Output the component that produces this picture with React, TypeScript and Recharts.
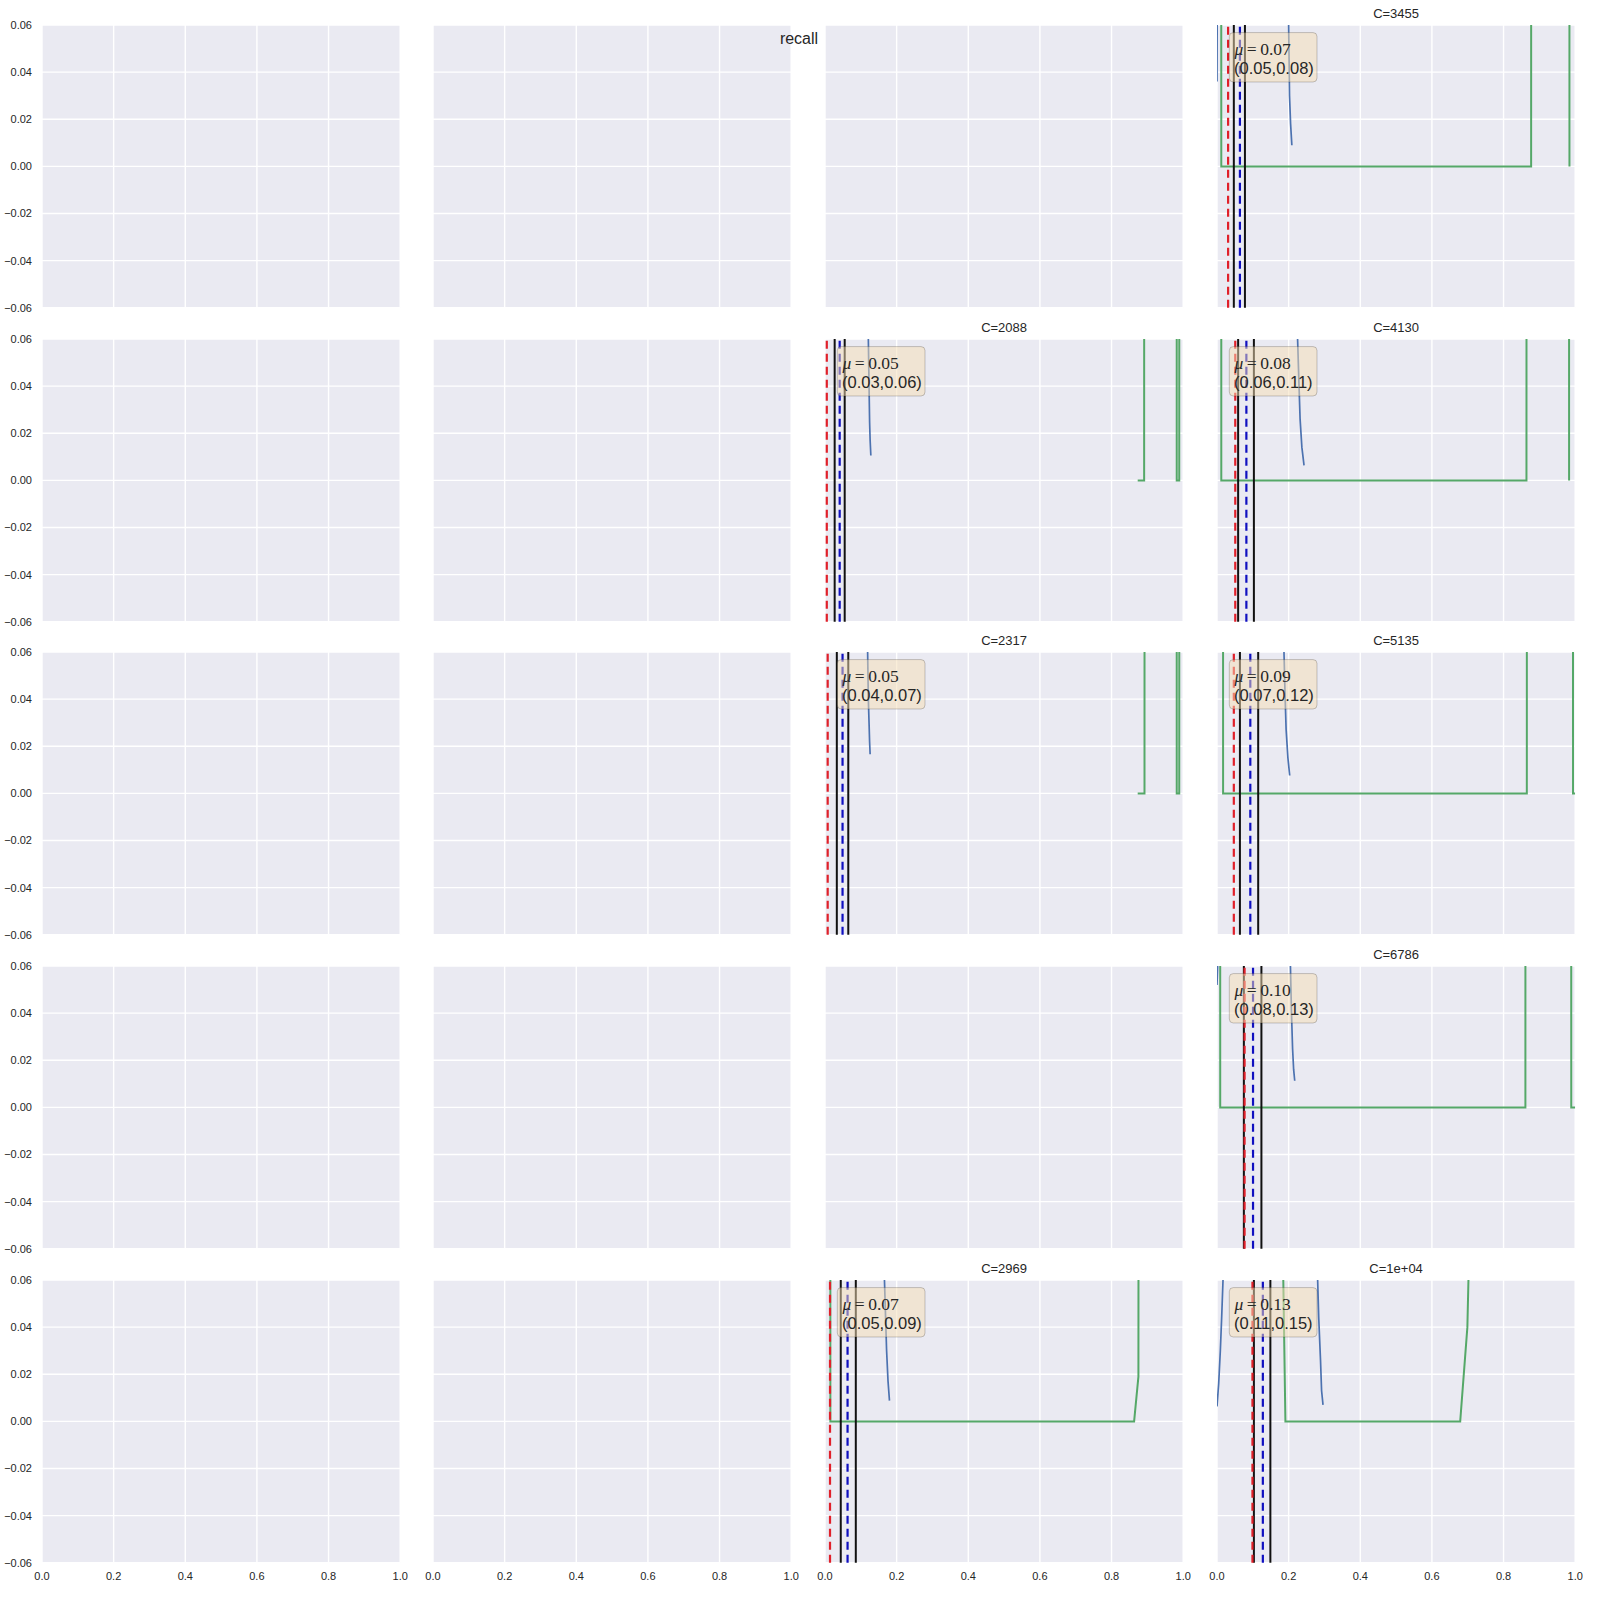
import React from "react";
import { ComposedChart, Line, XAxis, YAxis, CartesianGrid, ReferenceLine } from "recharts";

// ---------- data ----------
const xTicks = [0, 0.2, 0.4, 0.6, 0.8, 1.0];
const yTicks = [-0.06, -0.04, -0.02, 0, 0.02, 0.04, 0.06];
const suptitle = "recall";

const titles = ["C=3455", "C=2088", "C=2317", "C=2969", "C=4130", "C=5135", "C=6786", "C=1e+04"];
const panelRows = [0, 1, 2, 4, 1, 2, 3, 4];
const panelCols = [3, 2, 2, 2, 3, 3, 3, 3];
const muLabels = ["0.07", "0.05", "0.05", "0.07", "0.08", "0.09", "0.10", "0.13"];
const ciLabels = ["(0.05,0.08)", "(0.03,0.06)", "(0.04,0.07)", "(0.05,0.09)", "(0.06,0.11)", "(0.07,0.12)", "(0.08,0.13)", "(0.11,0.15)"];
const redRef = [0.031, 0.005, 0.0075, 0.014, 0.051, 0.047, 0.077, 0.099];
const ciLow = [0.047, 0.027, 0.033, 0.044, 0.059, 0.064, 0.075, 0.103];
const ciHigh = [0.078, 0.055, 0.065, 0.086, 0.103, 0.115, 0.124, 0.149];
const meanRef = [0.064, 0.041, 0.049, 0.063, 0.082, 0.093, 0.1006, 0.128];

const blueC3455 = [
  { x: 0, y: 0.036 }, { x: 0.0006, y: 0.07 }, { x: 0.01, y: 0.5 }, { x: 0.19, y: 0.5 },
  { x: 0.1995, y: 0.075 }, { x: 0.2, y: 0.06 }, { x: 0.2025, y: 0.03 }, { x: 0.2055, y: 0.018 }, { x: 0.209, y: 0.009 },
];
const blueC2088 = [
  { x: 0, y: 0.5 }, { x: 0.119, y: 0.5 }, { x: 0.1205, y: 0.075 }, { x: 0.121, y: 0.06 },
  { x: 0.1235, y: 0.035 }, { x: 0.1245, y: 0.025 }, { x: 0.126, y: 0.017 }, { x: 0.128, y: 0.0106 },
];
const blueC2317 = [
  { x: 0, y: 0.5 }, { x: 0.117, y: 0.5 }, { x: 0.1185, y: 0.075 }, { x: 0.119, y: 0.06 },
  { x: 0.121, y: 0.04 }, { x: 0.123, y: 0.03 }, { x: 0.1245, y: 0.022 }, { x: 0.126, y: 0.0166 },
];
const blueC2969 = [
  { x: 0, y: 0.5 }, { x: 0.162, y: 0.5 }, { x: 0.1652, y: 0.075 }, { x: 0.166, y: 0.06 },
  { x: 0.169, y: 0.045 }, { x: 0.172, y: 0.03 }, { x: 0.176, y: 0.017 }, { x: 0.18, y: 0.0088 },
];
const blueC4130 = [
  { x: 0, y: 0.5 }, { x: 0.22, y: 0.5 }, { x: 0.224, y: 0.075 }, { x: 0.225, y: 0.06 },
  { x: 0.228, y: 0.045 }, { x: 0.232, y: 0.026 }, { x: 0.237, y: 0.014 }, { x: 0.243, y: 0.0064 },
];
const blueC5135 = [
  { x: 0, y: 0.5 }, { x: 0.183, y: 0.5 }, { x: 0.186, y: 0.075 }, { x: 0.187, y: 0.06 },
  { x: 0.19, y: 0.042 }, { x: 0.193, y: 0.027 }, { x: 0.198, y: 0.015 }, { x: 0.203, y: 0.0076 },
];
const blueC6786 = [
  { x: 0, y: 0.052 }, { x: 0.004, y: 0.07 }, { x: 0.02, y: 0.5 }, { x: 0.2, y: 0.5 },
  { x: 0.2042, y: 0.075 }, { x: 0.205, y: 0.06 }, { x: 0.208, y: 0.04 }, { x: 0.211, y: 0.025 },
  { x: 0.214, y: 0.016 }, { x: 0.217, y: 0.0113 },
];
const blueC10000 = [
  { x: 0, y: 0.0064 }, { x: 0.0047, y: 0.016 }, { x: 0.0093, y: 0.03 }, { x: 0.013, y: 0.044 },
  { x: 0.0168, y: 0.06 }, { x: 0.02, y: 0.08 }, { x: 0.03, y: 0.5 }, { x: 0.27, y: 0.5 },
  { x: 0.2805, y: 0.075 }, { x: 0.281, y: 0.06 }, { x: 0.284, y: 0.044 }, { x: 0.289, y: 0.026 },
  { x: 0.292, y: 0.013 }, { x: 0.296, y: 0.007 },
];

const greenC3455 = [
  { x: 0.011, y: 0.5 }, { x: 0.012, y: 0 }, { x: 0.877, y: 0 }, { x: 0.8775, y: 0.5 },
  { x: 0.9835, y: 0.5 }, { x: 0.984, y: 0 },
];
const greenC2088 = [
  { x: 0.873, y: 0 }, { x: 0.891, y: 0 }, { x: 0.8915, y: 0.5 }, { x: 0.9815, y: 0.5 },
  { x: 0.982, y: 0 }, { x: 0.989, y: 0 }, { x: 0.9895, y: 0.5 }, { x: 1.0, y: 0.5 },
];
const greenC2317 = [
  { x: 0.873, y: 0 }, { x: 0.892, y: 0 }, { x: 0.8925, y: 0.5 }, { x: 0.9815, y: 0.5 },
  { x: 0.982, y: 0 }, { x: 0.989, y: 0 }, { x: 0.9895, y: 0.5 }, { x: 1.0, y: 0.5 },
];
const greenC2969 = [
  { x: 0.0145, y: 0.5 }, { x: 0.015, y: 0 }, { x: 0.863, y: 0 }, { x: 0.875, y: 0.019 }, { x: 0.877, y: 0.5 },
];
const greenC4130 = [
  { x: 0.0115, y: 0.5 }, { x: 0.012, y: 0 }, { x: 0.864, y: 0 }, { x: 0.8645, y: 0.5 },
  { x: 0.9825, y: 0.5 }, { x: 0.983, y: 0 },
];
const greenC5135 = [
  { x: 0.0165, y: 0.5 }, { x: 0.017, y: 0 }, { x: 0.865, y: 0 }, { x: 0.8655, y: 0.5 },
  { x: 0.9935, y: 0.5 }, { x: 0.994, y: 0 }, { x: 1.0, y: 0 },
];
const greenC6786 = [
  { x: 0.0085, y: 0.5 }, { x: 0.009, y: 0 }, { x: 0.861, y: 0 }, { x: 0.8615, y: 0.5 },
  { x: 0.9885, y: 0.5 }, { x: 0.989, y: 0 }, { x: 1.0, y: 0 },
];
const greenC10000 = [
  { x: 0.1845, y: 0.066 }, { x: 0.191, y: 0 }, { x: 0.679, y: 0 }, { x: 0.699, y: 0.04 }, { x: 0.7035, y: 0.07 },
];

const blueCurves = [blueC3455, blueC2088, blueC2317, blueC2969, blueC4130, blueC5135, blueC6786, blueC10000];
const greenCurves = [greenC3455, greenC2088, greenC2317, greenC2969, greenC4130, greenC5135, greenC6786, greenC10000];

// ---------- layout ----------
const COL_LEFT = [42, 433.3, 825, 1216.7];
const ROW_TOP = [24.7, 338.5, 652.3, 966.1, 1279.9];
const PLOT_W = 358.2;
const PLOT_H = 282.8;
const AX_W = 42;
const AX_H = 30;
const TOP_M = 24;
const RIGHT_M = 8;

const SANS = "'Liberation Sans', Arial, sans-serif";
const SERIF = "'Liberation Serif', 'DejaVu Serif', serif";
const TEXT = "#262626";
const TICK_STYLE = { fontSize: 11, fill: TEXT, fontFamily: SANS };

const fmtY = (v: number) => (v < 0 ? "\u2212" : "") + Math.abs(v).toFixed(2);
const fmtX = (v: number) => v.toFixed(1);
const fmtNone = () => "";

function Panel({ row, col, idx }: { row: number; col: number; idx: number }) {
  const showX = row === 4;
  const showY = col === 0;
  const w = AX_W + PLOT_W + RIGHT_M;
  const h = TOP_M + PLOT_H + AX_H;
  const has = idx >= 0;
  return (
    <div style={{ position: "absolute", left: COL_LEFT[col] - AX_W, top: ROW_TOP[row] - TOP_M, width: w, height: h }}>
      <ComposedChart width={w} height={h} margin={{ top: TOP_M, right: RIGHT_M, left: 0, bottom: 0 }}>
        <CartesianGrid stroke="#ffffff" strokeWidth={1.4} fill="#EAEAF2" fillOpacity={1} />
        <XAxis
          type="number"
          dataKey="x"
          domain={[0, 1]}
          ticks={xTicks}
          interval={0}
          allowDataOverflow
          height={AX_H}
          axisLine={false}
          tickLine={false}
          tickMargin={3}
          tickFormatter={showX ? fmtX : fmtNone}
          tick={TICK_STYLE}
        />
        <YAxis
          type="number"
          dataKey="y"
          domain={[-0.06, 0.06]}
          ticks={yTicks}
          interval={0}
          allowDataOverflow
          width={AX_W}
          axisLine={false}
          tickLine={false}
          tickMargin={4}
          tickFormatter={showY ? fmtY : fmtNone}
          tick={TICK_STYLE}
        />
        {has && (
          <Line data={greenCurves[idx]} dataKey="y" type="linear" stroke="#55A868" strokeWidth={2} dot={false} activeDot={false} isAnimationActive={false} />
        )}
        {has && (
          <Line data={blueCurves[idx]} dataKey="y" type="linear" stroke="#4C72B0" strokeWidth={1.7} dot={false} activeDot={false} isAnimationActive={false} />
        )}
        {has && <ReferenceLine x={ciLow[idx]} stroke="#111111" strokeWidth={2} />}
        {has && <ReferenceLine x={ciHigh[idx]} stroke="#111111" strokeWidth={2} />}
        {has && <ReferenceLine x={redRef[idx]} stroke="#E0202A" strokeWidth={2.2} strokeDasharray="8 5" />}
        {has && <ReferenceLine x={meanRef[idx]} stroke="#1010C0" strokeWidth={2.2} strokeDasharray="8 5" />}
      </ComposedChart>
      {has && (
        <svg width={w} height={h} style={{ position: "absolute", left: 0, top: 0, pointerEvents: "none" }}>
          <g transform={`translate(${AX_W},${TOP_M})`}>
            <text x={PLOT_W / 2} y={-7.5} textAnchor="middle" fontFamily={SANS} fontSize={13} fill={TEXT}>
              {titles[idx]}
            </text>
            <rect x={12.3} y={7.6} width={87.7} height={49.4} rx={4} ry={4} fill="#F5DEB3" fillOpacity={0.5} stroke="#000000" strokeOpacity={0.2} strokeWidth={1} />
            <text x={17.5} y={30.3} fontFamily={SERIF} fontSize={17.5} fill={TEXT}>
              <tspan fontStyle="italic">μ</tspan>
              <tspan>{"\u2009=\u2009" + muLabels[idx]}</tspan>
            </text>
            <text x={17} y={49.3} fontFamily={SANS} fontSize={16.5} fill={TEXT}>
              {ciLabels[idx]}
            </text>
          </g>
        </svg>
      )}
    </div>
  );
}

export default function App() {
  const cells: { row: number; col: number; idx: number }[] = [];
  for (let r = 0; r < 5; r++) {
    for (let c = 0; c < 4; c++) {
      let idx = -1;
      for (let k = 0; k < titles.length; k++) {
        if (panelRows[k] === r && panelCols[k] === c) idx = k;
      }
      cells.push({ row: r, col: c, idx });
    }
  }
  return (
    <div style={{ position: "absolute", left: 0, top: 0, width: 1600, height: 1600, background: "#ffffff", overflow: "hidden" }}>
      {cells.map((cell) => (
        <Panel key={`${cell.row}-${cell.col}`} row={cell.row} col={cell.col} idx={cell.idx} />
      ))}
      <svg width={1600} height={80} style={{ position: "absolute", left: 0, top: 0, pointerEvents: "none" }}>
        <text x={799} y={44} textAnchor="middle" fontFamily={SANS} fontSize={16} fill={TEXT}>
          {suptitle}
        </text>
      </svg>
    </div>
  );
}
